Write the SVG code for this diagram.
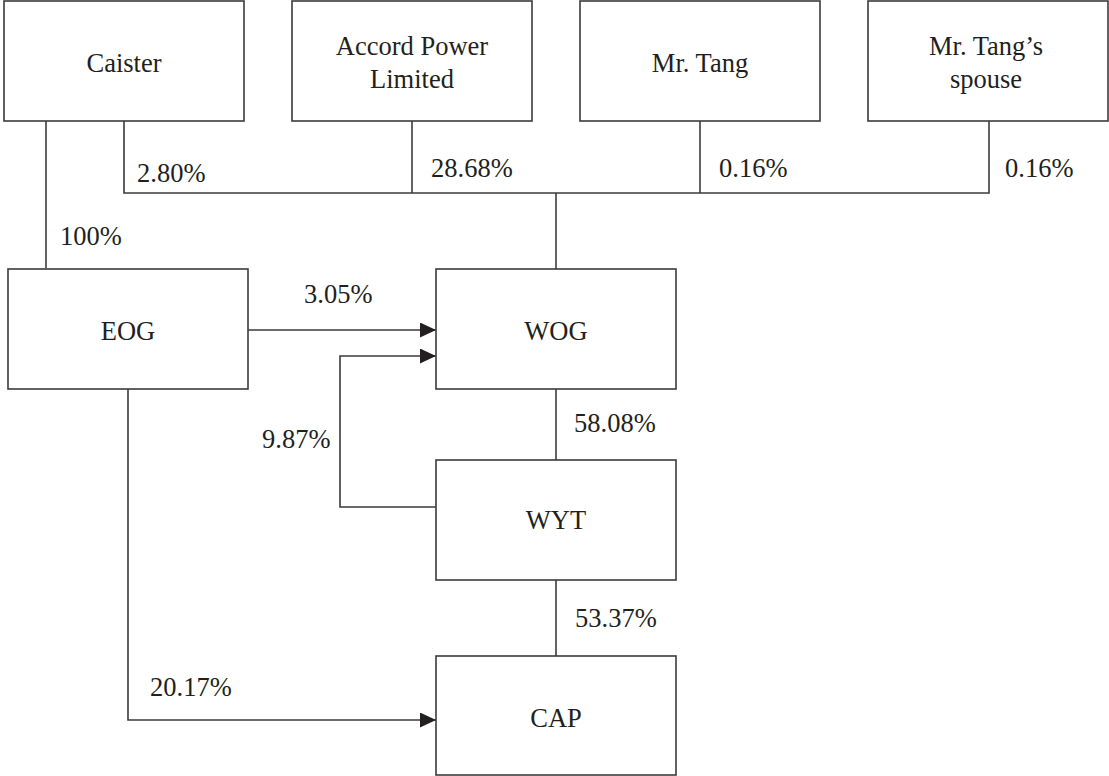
<svg xmlns="http://www.w3.org/2000/svg" width="1109" height="776" viewBox="0 0 1109 776">
<defs>
<style>
.box{fill:#fff;stroke:#3d3a3a;stroke-width:1.6}
.ln{fill:none;stroke:#3d3a3a;stroke-width:1.6}
text{font-family:"Liberation Serif","Times New Roman",serif;font-size:26.5px;fill:#231f20}
.c{text-anchor:middle}
</style>
<marker id="ah" markerWidth="17" markerHeight="15" refX="16" refY="7.5" orient="auto" markerUnits="userSpaceOnUse">
<path d="M0,0 L16,7.5 L0,15 Z" fill="#231f20"/>
</marker>
</defs>
<rect width="1109" height="776" fill="#fff"/>
<g id="connectors">
<path class="ln" d="M46,121 V268"/>
<path class="ln" d="M124,121 V193 H989 V121"/>
<path class="ln" d="M412,121 V193"/>
<path class="ln" d="M700,121 V193"/>
<path class="ln" d="M556,193 V269"/>
<path class="ln" d="M248,330 H436" marker-end="url(#ah)"/>
<path class="ln" d="M436,507 H340 V356 H436" marker-end="url(#ah)"/>
<path class="ln" d="M556,389 V460"/>
<path class="ln" d="M556,580 V656"/>
<path class="ln" d="M128,389 V720 H436" marker-end="url(#ah)"/>
<text x="60" y="245">100%</text>
<text x="137" y="182">2.80%</text>
<text x="431" y="177">28.68%</text>
<text x="719" y="177">0.16%</text>
<text x="1005" y="177">0.16%</text>
<text x="304" y="303">3.05%</text>
<text x="574" y="432">58.08%</text>
<text x="262" y="448">9.87%</text>
<text x="575" y="627">53.37%</text>
<text x="150" y="696">20.17%</text>
</g>
<g id="caister"><rect class="box" x="4" y="1" width="240" height="120"/><text class="c" x="124" y="72">Caister</text></g>
<g id="accord"><rect class="box" x="292" y="1" width="240" height="120"/><text class="c" x="412" y="55">Accord Power</text><text class="c" x="412" y="88">Limited</text></g>
<g id="mrtang"><rect class="box" x="580" y="1" width="240" height="120"/><text class="c" x="700" y="72">Mr. Tang</text></g>
<g id="spouse"><rect class="box" x="868" y="1" width="240" height="120"/><text class="c" x="986" y="55">Mr. Tang’s</text><text class="c" x="986" y="88">spouse</text></g>
<g id="eog"><rect class="box" x="8" y="269" width="240" height="120"/><text class="c" x="128" y="340">EOG</text></g>
<g id="wog"><rect class="box" x="436" y="269" width="240" height="120"/><text class="c" x="556" y="340">WOG</text></g>
<g id="wyt"><rect class="box" x="436" y="460" width="240" height="120"/><text class="c" x="556" y="529">WYT</text></g>
<g id="cap"><rect class="box" x="436" y="656" width="240" height="119"/><text class="c" x="556" y="727">CAP</text></g>
</svg>
